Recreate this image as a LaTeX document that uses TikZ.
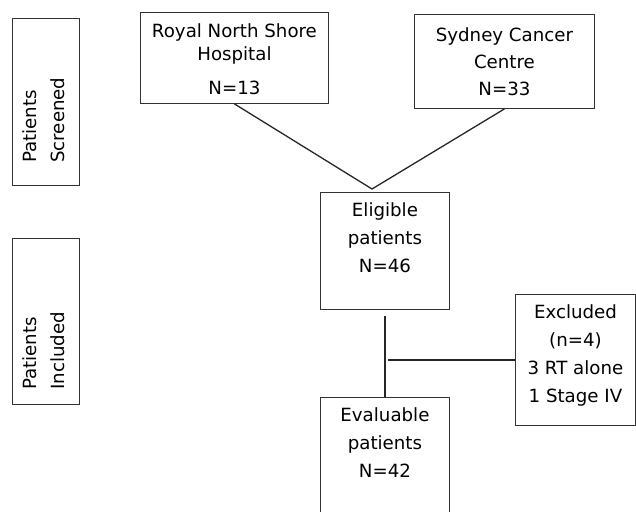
\documentclass[tikz,border=0pt]{standalone}
\usepackage{fontspec}
\setmainfont{DejaVu Sans}

\begin{document}
\begin{tikzpicture}[x=1pt,y=1pt,
  box/.style={draw=black!80, line width=0.9pt, inner sep=0pt, anchor=north west},
  txt/.style={align=center, inner sep=0pt, anchor=north, font=\fontsize{18.2}{28}\selectfont},
  side/.style={align=left, inner sep=0pt, anchor=north west, rotate=90, font=\fontsize{18.2}{28}\selectfont},
  link/.style={line width=1.3pt, black!85}]
\clip (0,0) rectangle (636,-511);
\useasboundingbox (0,0) rectangle (636,-511);
% side boxes
\node[box, minimum width=67, minimum height=167] (screened) at (12,-18) {};
\node[side] (screenedtxt) at (22,-163) {Patients\\Screened};
\node[box, minimum width=67, minimum height=166] (included) at (12,-238) {};
\node[side] (includedtxt) at (22,-390) {Patients\\Included};
% sites
\node[box, minimum width=188, minimum height=91] (rnsh) at (140,-12) {};
\node[txt] (rnshtxt) at ([yshift=-11]rnsh.north) {Royal North Shore\\[-5pt]Hospital\\[6pt]N=13};
\node[box, minimum width=180, minimum height=94] (scc) at (414,-14) {};
\node[txt, font=\fontsize{18.2}{27}\selectfont] (scctxt) at ([yshift=-13]scc.north) {Sydney Cancer\\Centre\\N=33};
% flow
\node[box, minimum width=129, minimum height=117] (elig) at (320,-192) {};
\node[txt] (eligtxt) at ([yshift=-10]elig.north) {Eligible\\patients\\N=46};
\node[box, minimum width=120, minimum height=131] (excl) at (515,-294) {};
\node[txt] (excltxt) at ([yshift=-10]excl.north) {Excluded\\(n=4)\\3 RT alone\\1 Stage IV};
\node[box, minimum width=129, minimum height=140] (eval) at (320,-397) {};
\node[txt] (evaltxt) at ([yshift=-10]eval.north) {Evaluable\\patients\\N=42};
% connectors
\coordinate (meet) at (372,-189);
\draw[link] (rnsh.south) -- (meet) -- (scc.south);
\draw[link] ([yshift=-6]elig.south) -- (eval.north);
\draw[link] (excl.west) -- ([xshift=3.5]elig.south |- excl.west);
\end{tikzpicture}
\end{document}
